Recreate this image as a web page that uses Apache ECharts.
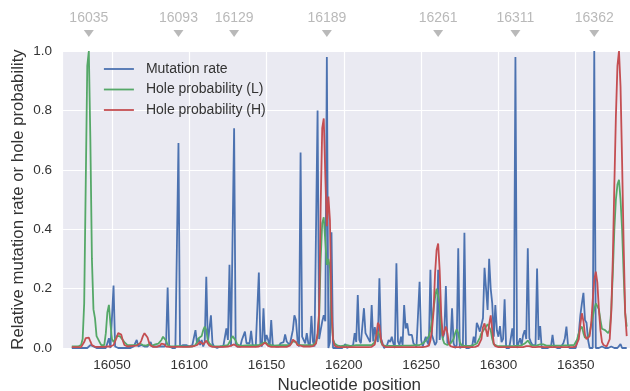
<!DOCTYPE html>
<html>
<head>
<meta charset="utf-8">
<script src="https://cdn.jsdelivr.net/npm/echarts@6/dist/echarts.min.js"></script>
<style>html,body{margin:0;padding:0;background:#fff;}#c{width:630px;height:391px;}</style>
</head>
<body>
<div id="c"></div>
<script>
// Nucleotide positions start here; one value per position (16024..16383)
const startPosition = 16024;

const mutationRate = [
  0,0,0,0,0,0,0,0,0,0,
  0,0.005,0.01,0.016,0.005,0,0,0,0,0,
  0,0,0,0,0.033,0,0,0.21,0.005,0,
  0,0,0,0,0,0,0,0,0,0.005,
  0.005,0.01,0.027,0.005,0.005,0.01,0.016,0.005,0.005,0.005,
  0.01,0.02,0.005,0.005,0.005,0.005,0.005,0,0.005,0.005,
  0.005,0.015,0.204,0.005,0,0,0,0,0.005,0.69,
  0.005,0.01,0.01,0.005,0.01,0.005,0.005,0.005,0.01,0.005,
  0.06,0.016,0.033,0.01,0.027,0.005,0.02,0.24,0.016,0.022,
  0.11,0.016,0.005,0,0,0,0.005,0,0.005,0.005,
  0.066,0.027,0.28,0.005,0,0.74,0.016,0.005,0.005,0.005,
  0.027,0.027,0.055,0.016,0.01,0.016,0.058,0.01,0.005,0.005,
  0.005,0.254,0.016,0.005,0.134,0.016,0.044,0.027,0.005,0.094,
  0.01,0.01,0.005,0.005,0.005,0.016,0.01,0.02,0.046,0.022,
  0.022,0.01,0.01,0.06,0.11,0.094,0.027,0.005,0.658,0.038,
  0.033,0.016,0.05,0.016,0.005,0.108,0.022,0.005,0.005,0.8,
  0.03,0.06,0.089,0.11,0.09,0.98,0,0.02,0.39,0,
  0,0,0,0,0,0,0.005,0.013,0,0.005,
  0.005,0.005,0.01,0.05,0.02,0.178,0.027,0.016,0.02,0.134,
  0.05,0.044,0.03,0.02,0.145,0.022,0.07,0.04,0.02,0.235,
  0.033,0.027,0,0.005,0.01,0.027,0.02,0.038,0.016,0,
  0.285,0.022,0.01,0.038,0.01,0.145,0.066,0.083,0.044,0.044,
  0.044,0.016,0.022,0.005,0.01,0.223,0.027,0.005,0,0.038,
  0.02,0.01,0.263,0.044,0.044,0.01,0.02,0.263,0.027,0.083,
  0.033,0.05,0.209,0.016,0.02,0.02,0.134,0.016,0,0.01,
  0.336,0,0,0.005,0.388,0,0,0,0.005,0.005,
  0.038,0.016,0.085,0.072,0.055,0.06,0.1,0.27,0.2,0.128,
  0.3,0.2,0.15,0.038,0.145,0.06,0.038,0.074,0.02,0.03,
  0.164,0,0,0,0.005,0.066,0.01,0.98,0,0,
  0.033,0.01,0.044,0.06,0.03,0.336,0.033,0.02,0.01,0.005,
  0.01,0.268,0.027,0.074,0,0,0,0,0,0,
  0.005,0.044,0.005,0,0,0,0,0,0.016,0.033,
  0.072,0.01,0,0,0,0,0,0.005,0.05,0.11,
  0.15,0.186,0.094,0.085,0.027,0,0,0,1.0,0,
  0.005,0,0,0.005,0,0,0,0,0,0.005,
  0,0,0.005,0,0.005,0.013,0,0,0,0
];

const holeProbL = [
  0.005,0.005,0.005,0.005,0.005,0.005,0.01,0.03,0.15,0.55,
  0.95,1.0,0.7,0.3,0.13,0.1,0.04,0.03,0.02,0.01,
  0.005,0.01,0.05,0.12,0.145,0.08,0.03,0.02,0.03,0.04,
  0.044,0.04,0.035,0.027,0.02,0.015,0.01,0.008,0.01,0.012,
  0.01,0.008,0.01,0.012,0.015,0.012,0.01,0.01,0.008,0.01,
  0.012,0.01,0.008,0.01,0.012,0.015,0.015,0.02,0.027,0.038,
  0.044,0.025,0.01,0.006,0.005,0.005,0.005,0.005,0.006,0.008,
  0.006,0.005,0.005,0.005,0.005,0.006,0.005,0.005,0.005,0.006,
  0.01,0.02,0.033,0.035,0.04,0.06,0.072,0.06,0.027,0.015,
  0.01,0.006,0.005,0.005,0.005,0.005,0.006,0.006,0.007,0.008,
  0.009,0.01,0.02,0.03,0.04,0.044,0.025,0.012,0.008,0.007,
  0.007,0.008,0.008,0.009,0.01,0.01,0.01,0.009,0.009,0.01,
  0.01,0.01,0.012,0.015,0.02,0.02,0.015,0.012,0.01,0.01,
  0.009,0.008,0.008,0.009,0.01,0.01,0.01,0.01,0.01,0.01,
  0.01,0.01,0.015,0.022,0.027,0.02,0.012,0.01,0.01,0.01,
  0.01,0.01,0.01,0.01,0.01,0.01,0.01,0.012,0.02,0.04,
  0.1,0.3,0.42,0.44,0.36,0.28,0.3,0.27,0.1,0.03,
  0.015,0.01,0.008,0.007,0.006,0.006,0.008,0.01,0.01,0.008,
  0.007,0.007,0.008,0.01,0.01,0.01,0.01,0.01,0.01,0.01,
  0.01,0.01,0.01,0.01,0.01,0.012,0.02,0.04,0.055,0.045,
  0.02,0.01,0.008,0.007,0.007,0.007,0.007,0.007,0.007,0.007,
  0.007,0.007,0.007,0.007,0.007,0.008,0.008,0.008,0.008,0.008,
  0.009,0.009,0.009,0.01,0.01,0.01,0.01,0.015,0.02,0.025,
  0.03,0.04,0.06,0.09,0.13,0.17,0.2,0.206,0.15,0.07,
  0.03,0.015,0.012,0.01,0.012,0.015,0.02,0.03,0.05,0.063,
  0.05,0.02,0.01,0.008,0.007,0.007,0.007,0.008,0.008,0.009,
  0.01,0.01,0.015,0.02,0.035,0.05,0.055,0.065,0.072,0.08,
  0.085,0.06,0.03,0.012,0.008,0.007,0.006,0.006,0.006,0.006,
  0.006,0.006,0.006,0.006,0.006,0.006,0.007,0.007,0.008,0.008,
  0.009,0.009,0.01,0.015,0.02,0.025,0.018,0.01,0.008,0.008,
  0.008,0.009,0.01,0.012,0.016,0.012,0.009,0.008,0.008,0.008,
  0.008,0.008,0.008,0.008,0.008,0.008,0.008,0.008,0.009,0.009,
  0.009,0.009,0.009,0.01,0.01,0.01,0.015,0.03,0.05,0.065,
  0.072,0.05,0.035,0.03,0.035,0.05,0.08,0.105,0.13,0.15,
  0.156,0.13,0.094,0.065,0.06,0.06,0.066,0.05,0.06,0.128,
  0.25,0.4,0.5,0.55,0.566,0.5,0.4,0.25,0.117,0.072
];

const holeProbH = [
  0.003,0.003,0.003,0.003,0.003,0.003,0.003,0.008,0.02,0.033,
  0.038,0.035,0.022,0.01,0.005,0.004,0.004,0.004,0.004,0.004,
  0.004,0.004,0.005,0.005,0.005,0.005,0.006,0.01,0.016,0.035,
  0.05,0.055,0.045,0.025,0.01,0.005,0.005,0.005,0.006,0.006,
  0.007,0.008,0.008,0.01,0.015,0.025,0.04,0.05,0.052,0.035,
  0.018,0.008,0.004,0.004,0.004,0.004,0.005,0.008,0.015,0.018,
  0.012,0.005,0.004,0.004,0.004,0.004,0.004,0.004,0.004,0.004,
  0.004,0.004,0.004,0.004,0.004,0.004,0.005,0.005,0.005,0.006,
  0.008,0.01,0.016,0.021,0.015,0.012,0.018,0.025,0.015,0.008,
  0.005,0.004,0.004,0.004,0.004,0.004,0.004,0.004,0.004,0.004,
  0.004,0.005,0.006,0.008,0.01,0.012,0.008,0.005,0.004,0.004,
  0.004,0.004,0.004,0.004,0.004,0.004,0.004,0.004,0.004,0.004,
  0.004,0.005,0.006,0.01,0.015,0.018,0.012,0.007,0.005,0.004,
  0.004,0.004,0.004,0.004,0.004,0.004,0.004,0.004,0.004,0.004,
  0.005,0.008,0.015,0.028,0.033,0.02,0.01,0.008,0.008,0.006,
  0.005,0.005,0.005,0.005,0.005,0.005,0.006,0.008,0.015,0.05,
  0.12,0.48,0.74,0.773,0.58,0.41,0.51,0.43,0.13,0.027,
  0.008,0.004,0.003,0.003,0.003,0.003,0.003,0.003,0.003,0.003,
  0.003,0.003,0.003,0.003,0.003,0.003,0.003,0.003,0.003,0.003,
  0.003,0.003,0.003,0.003,0.004,0.006,0.012,0.04,0.085,0.075,
  0.03,0.01,0.005,0.003,0.003,0.003,0.003,0.003,0.003,0.003,
  0.003,0.003,0.003,0.003,0.003,0.003,0.003,0.003,0.003,0.003,
  0.003,0.003,0.003,0.003,0.003,0.003,0.003,0.003,0.004,0.005,
  0.006,0.008,0.025,0.06,0.12,0.25,0.33,0.352,0.26,0.11,
  0.04,0.045,0.072,0.05,0.015,0.006,0.004,0.003,0.003,0.003,
  0.003,0.003,0.003,0.003,0.003,0.003,0.003,0.003,0.003,0.003,
  0.003,0.004,0.005,0.008,0.012,0.03,0.07,0.083,0.06,0.038,
  0.08,0.11,0.06,0.015,0.006,0.004,0.003,0.003,0.003,0.003,
  0.003,0.003,0.003,0.003,0.003,0.003,0.003,0.003,0.003,0.003,
  0.003,0.003,0.003,0.004,0.006,0.008,0.006,0.004,0.003,0.003,
  0.003,0.003,0.004,0.008,0.004,0.003,0.003,0.003,0.003,0.003,
  0.003,0.003,0.003,0.003,0.003,0.003,0.003,0.003,0.003,0.003,
  0.003,0.003,0.003,0.003,0.003,0.004,0.005,0.01,0.03,0.08,
  0.117,0.09,0.044,0.03,0.033,0.04,0.08,0.16,0.23,0.257,
  0.22,0.13,0.06,0.02,0.01,0.008,0.005,0.008,0.03,0.12,
  0.3,0.55,0.78,0.95,1.0,0.88,0.63,0.35,0.12,0.04
];

// Highlighted positions shown with markers above the plot
const markerPositions = [16035, 16093, 16129, 16189, 16261, 16311, 16362];

const seriesNames = ['Mutation rate', 'Hole probability (L)', 'Hole probability (H)'];
const seriesColors = ['#4C72B0', '#55A868', '#C44E52'];
const seriesValues = [mutationRate, holeProbL, holeProbH];

// ---- presentation ----
const FONT = "'Liberation Sans', Arial, sans-serif";
const TEXT = '#333333';
const MARKER_Y = 1.059;

const toPairs = vals => vals.map((v, i) => [startPosition + i, v]);

const chart = echarts.init(document.getElementById('c'), null, { renderer: 'canvas' });

const lineSeries = seriesValues.map((vals, k) => ({
  type: 'line',
  name: seriesNames[k],
  data: toPairs(vals),
  symbol: 'none',
  showSymbol: false,
  lineStyle: { color: seriesColors[k], width: 1.8 },
  itemStyle: { color: seriesColors[k] },
  z: 2 + k,
  silent: true
}));

const option = {
  animation: false,
  textStyle: { fontFamily: FONT },
  grid: {
    left: 62, top: 51, bottom: 43, right: -6.5,
    show: true, backgroundColor: '#EAEAF2', borderWidth: 0,
    containLabel: false, outerBoundsMode: 'none'
  },
  legend: {
    data: seriesNames,
    orient: 'vertical',
    left: 98, top: 57,
    itemWidth: 30, itemHeight: 14, itemGap: 6.5,
    itemStyle: { opacity: 0 },
    lineStyle: { width: 1.8 },
    textStyle: { fontFamily: FONT, fontSize: 14, color: TEXT, padding: [0, 0, 0, 7] }
  },
  xAxis: {
    type: 'value',
    min: 16017.65, max: 16389.33,
    splitNumber: 8, minInterval: 50, maxInterval: 50,
    axisLine: { show: false },
    axisTick: { show: false },
    axisLabel: { showMinLabel: false, showMaxLabel: false, margin: 10, fontSize: 13.5, color: TEXT, fontFamily: FONT, formatter: v => String(v) },
    splitLine: { show: true, lineStyle: { color: '#ffffff', width: 1.2 } },
    name: 'Nucleotide position',
    nameLocation: 'middle', nameGap: 27,
    nameTextStyle: { fontSize: 17, color: TEXT, fontFamily: FONT }
  },
  yAxis: {
    type: 'value',
    min: 0, max: 1, interval: 0.2,
    axisLine: { show: false },
    axisTick: { show: false },
    axisLabel: { margin: 10, fontSize: 13.5, color: TEXT, fontFamily: FONT, formatter: v => v.toFixed(1) },
    splitLine: { show: true, lineStyle: { color: '#ffffff', width: 1.2 } },
    name: 'Relative mutation rate or hole probability',
    nameLocation: 'middle', nameGap: 35.5, nameMoveOverlap: false,
    nameTextStyle: { fontSize: 16.8, color: TEXT, fontFamily: FONT }
  },
  series: lineSeries.concat([{
    type: 'scatter',
    name: 'markers',
    data: markerPositions.map(p => [p, MARKER_Y]),
    symbol: 'triangle',
    symbolRotate: 180,
    symbolSize: [10, 7],
    clip: false,
    silent: true,
    itemStyle: { color: '#a8a8a8' },
    label: {
      show: true, position: 'top', distance: 5,
      formatter: p => String(p.value[0]),
      color: '#a8a8a8', fontSize: 14, fontFamily: FONT
    },
    z: 10
  }])
};

chart.setOption(option);
</script>
</body>
</html>
